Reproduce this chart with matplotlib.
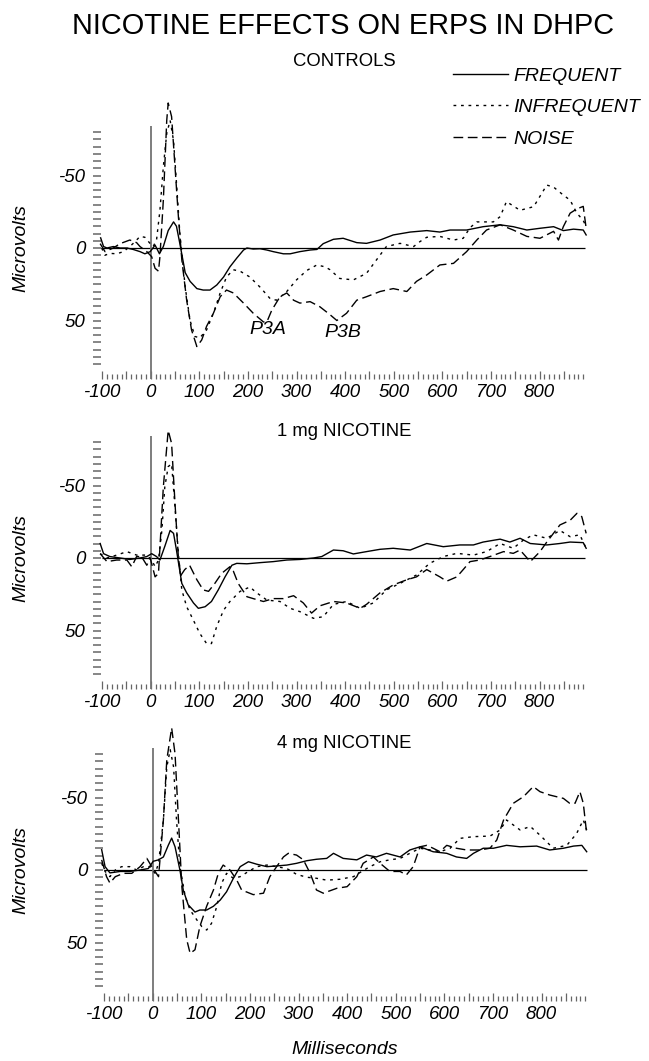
import matplotlib
matplotlib.use("Agg")
import matplotlib.pyplot as plt
from matplotlib import font_manager
from matplotlib.ticker import FixedLocator, FuncFormatter

plt.rcParams['font.family'] = ['Liberation Sans', 'DejaVu Sans']
plt.rcParams['lines.scale_dashes'] = False

# --- data (ms, microvolts; negative is up) ---
ctrl_freq_t = [-103, -97, -90, -77, -63, -49, -36, -22, -12, -1, 9, 18, 26, 36, 47, 53, 60, 71, 81, 95, 108, 122, 136, 150, 163, 177, 191, 198, 211, 225, 239, 252, 273, 287, 307, 328, 342, 355, 376, 396, 424, 444, 472, 499, 534, 568, 595, 616, 650, 684, 719, 746, 774, 801, 829, 849, 870, 890, 896]
ctrl_freq_v = [-7, -1, 0, -1, 0, 0, 1, 2.5, 4, 2.5, -2, 4, -1, -12, -18, -15, -3, 17, 23, 28, 29, 29, 25.5, 20, 13, 7, 1.4, 0, 0.7, 0.5, 1.4, 2.5, 4, 4, 2.5, 1.4, 1, -3, -6, -6.7, -3.7, -3.2, -5.5, -9, -11, -12, -11, -12.4, -12.4, -14.7, -16, -14.7, -12.4, -13.6, -14.7, -12, -13, -12.4, -9]

ctrl_infr_t = [-101, -94, -84, -70, -56, -43, -32, -22, -12, -1, 5, 12, 19, 26, 33, 40, 47, 53, 60, 71, 81, 91, 101, 115, 129, 143, 156, 170, 184, 204, 225, 246, 259, 280, 300, 321, 342, 359, 369, 389, 417, 444, 465, 485, 513, 541, 554, 568, 595, 623, 643, 657, 671, 705, 719, 732, 760, 788, 815, 829, 849, 863, 877, 890, 896]
ctrl_infr_v = [0, 5, 3.7, 4, 2.5, -1, -4.4, -8, -7.4, -3, -1, -5.5, -26, -56, -79, -88, -74, -45, -10, 27, 50, 61, 62, 56.5, 45, 31, 20, 15, 16, 20, 27, 35, 36, 30, 22, 15.5, 11.7, 13, 15, 21, 22, 17.5, 8, -1, -3.2, -1, -4.4, -7.4, -8, -5.5, -6.7, -14, -18, -18, -21.6, -32, -26, -28.5, -43.4, -42, -36.5, -33, -24, -19, -14.7]

ctrl_nois_t = [-104, -94, -77, -63, -43, -29, -22, -8, 2, 9, 16, 19, 26, 33, 36, 43, 50, 57, 64, 74, 84, 95, 105, 115, 129, 143, 156, 170, 191, 211, 232, 239, 249, 266, 280, 294, 307, 328, 348, 369, 383, 403, 424, 444, 472, 499, 527, 547, 568, 595, 623, 650, 671, 691, 719, 746, 774, 801, 829, 839, 849, 863, 877, 890, 896]
ctrl_nois_v = [-3, 2.5, 0, -3, -5.5, -3.7, -1, 2.5, 6, 14, 16, 6, -33, -88, -100, -90.6, -56, -21.6, 8, 36, 56.5, 68, 63.4, 54, 45, 33.6, 29, 31, 38, 45, 51, 51, 43, 33.6, 31, 36, 38, 37, 40.5, 46, 50, 45, 36, 33.6, 30, 28, 30, 23, 18.6, 11.7, 10.6, 2.5, -5.5, -12.4, -16, -12.4, -8, -6.7, -11.5, -5.5, -14.7, -24, -27, -28.7, -13.6]

mg1_freq_t = [-104, -97, -84, -63, -43, -22, -8, 2, 12, 19, 29, 40, 47, 53, 64, 74, 88, 98, 112, 125, 139, 153, 167, 177, 198, 225, 252, 280, 307, 335, 352, 376, 396, 417, 444, 472, 499, 534, 568, 602, 636, 664, 684, 719, 739, 760, 781, 815, 842, 863, 890, 896]
mg1_freq_v = [-10, -3, -1, 0, 1, 0, -1, -3, -1, 1.4, -8, -19, -17, -5.5, 17.5, 24, 31, 34.7, 33.6, 30, 22, 13, 5, 3.7, 4, 3.2, 2.5, 1.4, 1, 0, -1, -5.5, -5, -2.8, -4.4, -6, -6.7, -5.5, -10, -7.8, -9, -9, -11, -13, -11, -13.6, -10, -9, -10, -11, -10.6, -6.7]

mg1_infr_t = [-104, -90, -70, -49, -29, -8, 2, 9, 16, 23, 29, 36, 43, 50, 57, 64, 74, 88, 101, 115, 125, 136, 150, 163, 184, 204, 218, 239, 266, 287, 307, 335, 355, 376, 403, 431, 458, 485, 513, 547, 574, 602, 630, 664, 691, 719, 746, 767, 787, 815, 842, 863, 883, 896]
mg1_infr_v = [-3, 0, -2, -4.4, -2, -2, 1.4, 6, 1.4, -19, -49, -63, -65, -35, -3, 22, 33.6, 43, 52, 59, 59, 47, 36, 30, 23, 20, 24, 29, 30, 34.7, 37, 41.6, 40.5, 32, 30, 34.7, 31, 22, 17.5, 11.7, 3.7, -1, -3.2, -2, -4.4, -10, -6.7, -12.4, -16, -13.6, -19, -14.7, -16, -6.7]

mg1_nois_t = [-104, -90, -70, -49, -39, -29, -19, -8, -1, 9, 16, 26, 36, 43, 50, 57, 62, 70, 80, 95, 108, 119, 132, 146, 163, 170, 180, 198, 211, 232, 252, 273, 294, 314, 331, 348, 376, 403, 431, 444, 472, 499, 527, 547, 568, 595, 609, 630, 643, 657, 677, 698, 726, 746, 760, 781, 801, 815, 842, 863, 877, 887, 896]
mg1_nois_v = [-3, 2.5, 1.4, 1.4, 6, -1, -1, 5, 0, 13, 10.6, -49, -88, -79, -37.7, 0, 12, 8, 5, 15, 22, 23, 17.5, 10.6, 6, 9, 17.5, 26.7, 28, 30, 28, 28, 26, 31, 38, 33, 30, 31, 34.7, 32, 24, 18.6, 15, 13, 8, 13, 16, 13, 8, 2.5, 1.4, -1, -4.4, -3.2, -5.5, 2.5, -4.4, -11, -22.8, -26, -30.8, -28.5, -17]

mg4_freq_t = [-105, -98, -88, -67, -47, -26, -9, 1, 12, 22, 32, 39, 46, 56, 63, 73, 87, 97, 111, 125, 139, 152, 166, 180, 197, 214, 235, 255, 276, 296, 317, 337, 358, 372, 392, 420, 440, 460, 481, 509, 529, 550, 577, 605, 625, 646, 660, 680, 701, 728, 756, 790, 817, 845, 866, 883, 893]
mg4_freq_v = [-14, -2.3, 2, 1, 1, 0, -1, -6, -7, -9, -17, -22, -16, 0, 14, 24, 29, 27.6, 27.6, 25, 20.7, 15, 5.7, -2.3, -5.7, -4, -2.3, -2.8, -3.4, -4.6, -6.4, -7.4, -8, -11.5, -8, -7, -10.3, -9, -11.5, -9, -13.8, -16, -12.6, -11.5, -9, -8, -11.5, -15, -15, -17, -16, -16.5, -13.8, -15, -16.5, -17, -12.6]

mg4_infr_t = [-105, -98, -88, -77, -64, -47, -33, -19, -5, 5, 12, 22, 29, 36, 43, 49, 56, 67, 77, 91, 101, 111, 121, 132, 142, 152, 166, 180, 197, 214, 235, 255, 276, 296, 317, 337, 358, 385, 413, 430, 447, 468, 488, 509, 529, 550, 571, 591, 612, 632, 660, 694, 715, 728, 756, 777, 797, 824, 852, 872, 886, 893]
mg4_infr_v = [-4.6, 1, 4.6, 0, -2.3, -2.3, 0, -2.3, -2.3, 2.3, -4.6, -34.5, -71, -83, -71, -34.5, -2.3, 18.4, 27.6, 34.5, 39, 41.4, 36.8, 25, 9, 2.3, 5.7, 4.6, 1, -2.3, -3.4, -2.3, -1, 3, 5, 5.7, 7, 6.4, 4.6, 1, -2.3, -5.7, -7, -8, -11.5, -15, -13.8, -12.6, -15, -21.8, -23, -23.4, -27.6, -34.5, -27.6, -30, -24, -15, -17, -25, -34.5, -27.6]

mg4_nois_t = [-105, -95, -88, -77, -60, -43, -26, -12, -2, 5, 12, 22, 29, 39, 46, 53, 60, 70, 77, 87, 97, 111, 125, 135, 145, 159, 173, 183, 207, 228, 241, 255, 269, 279, 296, 310, 324, 337, 351, 379, 400, 420, 433, 454, 468, 488, 509, 522, 536, 550, 564, 577, 591, 605, 625, 646, 673, 694, 708, 722, 742, 763, 783, 797, 817, 845, 858, 869, 879, 886, 893]
mg4_nois_v = [-7, 4.6, 9, 4.6, 2.3, 2.3, -2.3, -8, -2.3, 1, 4.6, -34.5, -76, -98, -80, -34.5, 11.5, 48, 57.5, 55, 39, 25, 13.8, 2.3, -3.4, 0, 7, 13.8, 17, 16, 4.6, -2.3, -9, -11.5, -10.3, -7, 2.3, 13.8, 16, 12.6, 11.5, 4.6, -4.6, -9, -4.6, 1, 1, 3.4, -2.3, -16, -17, -15, -12.6, -17, -15, -13.8, -13.8, -15, -20.7, -34.5, -46, -50.6, -57.5, -54, -51.7, -49.4, -46, -46, -54, -46, -25]

panel_titles = ['CONTROLS', '1 mg NICOTINE', '4 mg NICOTINE']
legend_labels = ['FREQUENT', 'INFREQUENT', 'NOISE']

# --- layout (pixels) ---
W, H = 649, 1061
SX = 0.486   # px per ms
SY = 1.45    # px per microvolt
XLIM = (-125, 905)
YLIM = (100, -110)

fig = plt.figure(figsize=(W / 100, H / 100), dpi=100)


def add_panel(x0, y0):
    left = x0 + XLIM[0] * SX
    width = (XLIM[1] - XLIM[0]) * SX
    top = y0 + YLIM[1] * SY
    height = (YLIM[0] - YLIM[1]) * SY
    ax = fig.add_axes([left / W, 1 - (top + height) / H, width / W, height / H])
    ax.set_xlim(*XLIM)
    ax.set_ylim(*YLIM)
    ax.patch.set_visible(False)
    for s in ['top', 'right']:
        ax.spines[s].set_visible(False)
    ax.spines['left'].set_position(('data', -110))
    ax.spines['bottom'].set_position(('data', 90.5))
    ax.spines['left'].set_color('none')
    ax.spines['bottom'].set_color('none')

    ax.xaxis.set_major_locator(FixedLocator(list(range(-100, 900, 50))))
    ax.xaxis.set_minor_locator(FixedLocator([t for t in range(-100, 900, 10) if t % 50]))
    ax.xaxis.set_major_formatter(FuncFormatter(lambda v, p: f"{int(v)}" if int(v) % 100 == 0 else ""))
    ax.yaxis.set_major_locator(FixedLocator([-50, 0, 50]))
    ax.yaxis.set_minor_locator(FixedLocator([v for v in range(-80, 85, 5) if v % 50]))
    ax.yaxis.set_major_formatter(FuncFormatter(lambda v, p: f"{int(v)}"))

    ax.tick_params(axis='x', which='major', direction='in', length=5.8, width=0.9,
                   color='0.4', pad=3.5, labelsize=13.5)
    ax.tick_params(axis='x', which='minor', direction='in', length=3.6, width=0.9, color='0.4')
    ax.tick_params(axis='y', which='both', direction='inout', length=5.5, width=1.1,
                   color='0.4', pad=6, labelsize=13.5)
    for lab in ax.get_xticklabels() + ax.get_yticklabels():
        lab.set_fontstyle('italic')

    ax.hlines(0, -100, 893, color='black', lw=0.9)
    ax.vlines(0, -84, 90.5, color='0.45', lw=1.3)
    return ax


def draw(ax, ft, fv, it, iv, nt, nv):
    l1, = ax.plot(ft, fv, color='black', lw=1.0, solid_joinstyle='round')
    l2, = ax.plot(it, iv, color='black', lw=1.0, dashes=(2.0, 3.4))
    l3, = ax.plot(nt, nv, color='black', lw=1.0, dashes=(7.0, 3.3))
    return l1, l2, l3


zeros = [(150.7, 248), (150.7, 558), (152.7, 870)]
series = [
    (ctrl_freq_t, ctrl_freq_v, ctrl_infr_t, ctrl_infr_v, ctrl_nois_t, ctrl_nois_v),
    (mg1_freq_t, mg1_freq_v, mg1_infr_t, mg1_infr_v, mg1_nois_t, mg1_nois_v),
    (mg4_freq_t, mg4_freq_v, mg4_infr_t, mg4_infr_v, mg4_nois_t, mg4_nois_v),
]
title_y = [61, 432, 743]

axes = []
handles = None
for (x0, y0), data, ty, name in zip(zeros, series, title_y, panel_titles):
    ax = add_panel(x0, y0)
    h = draw(ax, *data)
    if handles is None:
        handles = h
    axes.append(ax)
    fig.text(344 / W, 1 - ty / H, name, ha='center', va='center', fontsize=13.3)
    fig.text(21 / W, 1 - y0 / H, 'Microvolts', rotation=90, ha='center', va='center',
             fontsize=14, style='italic')

axes[0].text(241, 56.5, 'P3A', ha='center', va='center', fontsize=14, style='italic')
axes[0].text(396, 58.6, 'P3B', ha='center', va='center', fontsize=14, style='italic')

axes[0].legend(handles, legend_labels, loc='upper left', bbox_to_anchor=(453 / W, 1 - 67 / H),
               bbox_transform=fig.transFigure, frameon=False, borderpad=0, borderaxespad=0,
               handlelength=2.83, handletextpad=0.26, labelspacing=0.72,
               prop={'style': 'italic', 'size': 14})

# the title face is a narrow grotesque; use the narrow cut when it is there
font_names = {f.name for f in font_manager.fontManager.ttflist}
if 'Liberation Sans Narrow' in font_names:
    title_kw = dict(family=['Liberation Sans Narrow', 'DejaVu Sans'], fontsize=24.5)
else:
    title_kw = dict(fontsize=20.8)
fig.text(343 / W, 1 - 26 / H, 'NICOTINE EFFECTS ON ERPS IN DHPC', ha='center', va='center',
         **title_kw)
fig.text(345 / W, 1 - 1050 / H, 'Milliseconds', ha='center', va='center', fontsize=14,
         style='italic')

fig.savefig('out.png', dpi=100)
